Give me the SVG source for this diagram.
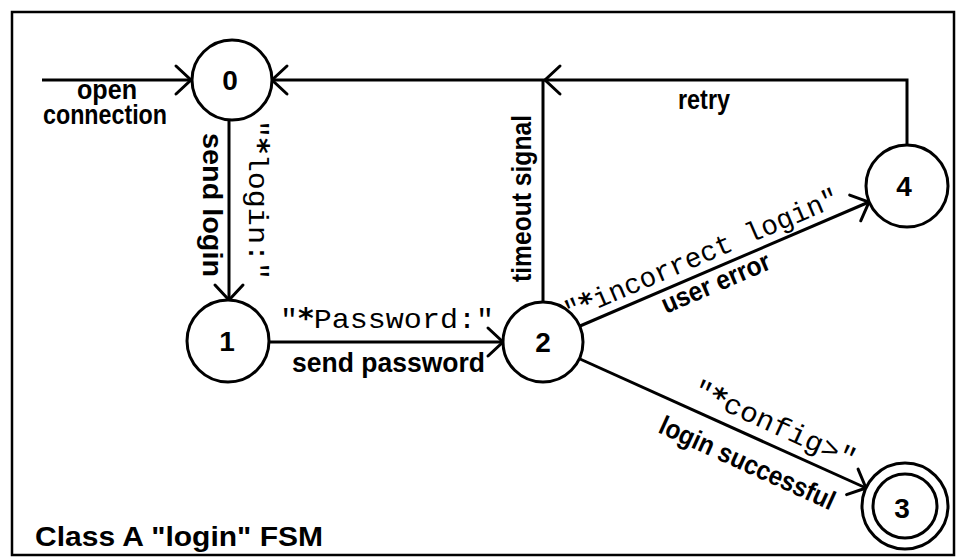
<svg xmlns="http://www.w3.org/2000/svg" width="956" height="559" viewBox="0 0 956 559">
<style>
.ln{fill:none;stroke:#000;stroke-width:3}
.nd{fill:#fff;stroke:#000;stroke-width:3}
.lb{font-family:"Liberation Sans",Arial,sans-serif;font-weight:bold;font-size:27px;fill:#000}
.mono{font-family:"Liberation Mono","Courier New",monospace;font-size:28px;fill:#000}
.ast{font-family:"DejaVu Sans",sans-serif;font-weight:bold}
.num{font-family:"Liberation Sans",Arial,sans-serif;font-weight:bold;font-size:28px;text-anchor:middle;fill:#000}
</style>
<defs>
<marker id="arr" markerUnits="userSpaceOnUse" markerWidth="40" markerHeight="40" refX="0" refY="0" viewBox="-20 -20 40 40" orient="auto" overflow="visible">
<path d="M-15,-14 L0,0 L-15,14" fill="none" stroke="#000" stroke-width="3" stroke-linecap="round"/>
</marker>
</defs>
<rect x="12" y="12" width="942" height="543" fill="#fff" stroke="#000" stroke-width="2.5"/>
<g id="connectors">
<path class="ln" d="M42,80 H191" marker-end="url(#arr)"/>
<path class="ln" d="M229,120 V300" marker-end="url(#arr)"/>
<path class="ln" d="M269,342 H503" marker-end="url(#arr)"/>
<path class="ln" d="M580,326 L869,202" marker-end="url(#arr)"/>
<path class="ln" d="M580,359 L866,488" marker-end="url(#arr)"/>
<path class="ln" d="M543,302 V80"/>
<path class="ln" d="M907,145 V80 H545" marker-end="url(#arr)"/>
<path class="ln" d="M545,80 H272" marker-end="url(#arr)"/>
<text class="lb" x="77" y="99" font-size="24" textLength="60" lengthAdjust="spacingAndGlyphs">open</text>
<text class="lb" x="43" y="124" font-size="24" textLength="124" lengthAdjust="spacingAndGlyphs">connection</text>
<text class="lb" transform="translate(203,133) rotate(90)" textLength="144" lengthAdjust="spacingAndGlyphs">send login</text>
<text class="mono" transform="translate(249,120) rotate(90)" textLength="160" lengthAdjust="spacingAndGlyphs">"<tspan class="ast">*</tspan>login:"</text>
<text class="mono" x="280" y="328" font-size="29" textLength="214" lengthAdjust="spacingAndGlyphs">"<tspan class="ast">*</tspan>Password:"</text>
<text class="lb" x="292" y="372" textLength="193" lengthAdjust="spacingAndGlyphs">send password</text>
<text class="lb" transform="translate(531,282) rotate(-90)" font-size="26" textLength="167" lengthAdjust="spacingAndGlyphs">timeout signal</text>
<text class="lb" x="678" y="109" textLength="52" lengthAdjust="spacingAndGlyphs">retry</text>
<text class="mono" transform="translate(569,321) rotate(-23.2)" font-size="27" textLength="296" lengthAdjust="spacingAndGlyphs">"<tspan class="ast">*</tspan>incorrect login"</text>
<text class="lb" transform="translate(666,314) rotate(-23.2)" textLength="116" lengthAdjust="spacingAndGlyphs">user error</text>
<text class="mono" transform="translate(691,396) rotate(24.4)" font-size="29" textLength="176" lengthAdjust="spacingAndGlyphs">"<tspan class="ast">*</tspan>config&gt;"</text>
<text class="lb" transform="translate(657,432) rotate(24.4)" textLength="190" lengthAdjust="spacingAndGlyphs">login successful</text>
</g>
<g id="node0"><circle class="nd" cx="232" cy="80" r="40"/><text class="num" x="230" y="90">0</text></g>
<g id="node1"><circle class="nd" cx="228" cy="341" r="41"/><text class="num" x="227" y="351">1</text></g>
<g id="node2"><circle class="nd" cx="543" cy="342" r="40"/><text class="num" x="543" y="352">2</text></g>
<g id="node4"><circle class="nd" cx="907" cy="186" r="41"/><text class="num" x="904" y="196">4</text></g>
<g id="node3"><circle class="nd" cx="905" cy="506" r="43"/><circle class="nd" cx="905" cy="506" r="32"/><text class="num" x="902" y="518">3</text></g>
<text class="lb" x="35" y="546" font-size="31" textLength="288" lengthAdjust="spacingAndGlyphs">Class A "login" FSM</text>
</svg>
